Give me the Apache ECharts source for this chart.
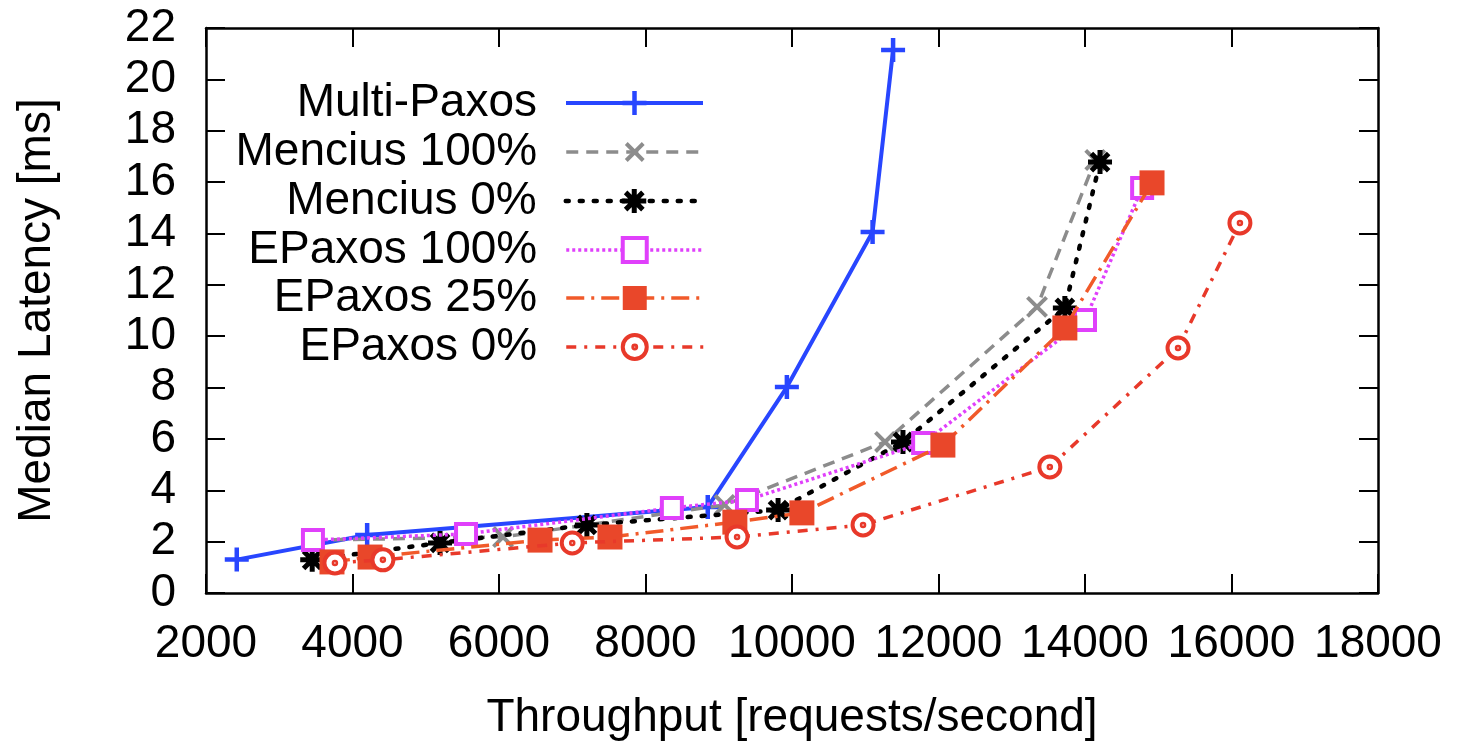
<!DOCTYPE html>
<html>
<head>
<meta charset="utf-8">
<script src="https://cdn.jsdelivr.net/npm/echarts@6/dist/echarts.min.js"></script>
<style>
html,body{margin:0;padding:0;background:#fff;}
#chart{width:1458px;height:747px;}
</style>
</head>
<body>
<div id="chart"></div>
<script>
// ---- data ----
const seriesNames = ['Multi-Paxos', 'Mencius 100%', 'Mencius 0%', 'EPaxos 100%', 'EPaxos 25%', 'EPaxos 0%'];
const multiPaxos = [[2420, 1.3], [4200, 2.26], [8850, 3.35], [9930, 8.02], [11100, 14.06], [11380, 21.14]];
const mencius100 = [[3460, 2.06], [6055, 2.18], [9080, 3.43], [11270, 5.88], [13345, 11.14], [14140, 16.86]];
const mencius0 = [[3450, 1.29], [5195, 1.95], [7200, 2.65], [9810, 3.23], [11515, 5.88], [13725, 11.1], [14205, 16.78]];
const epaxos100 = [[3460, 2.06], [5550, 2.3], [8360, 3.31], [9385, 3.62], [11790, 5.84], [14000, 10.63], [14780, 15.77]];
const epaxos25 = [[3720, 1.21], [4240, 1.4], [6560, 2.06], [7515, 2.18], [9220, 2.76], [10135, 3.12], [12060, 5.76], [13725, 10.32], [14915, 15.97]];
const epaxos0 = [[3760, 1.17], [4415, 1.29], [7000, 1.95], [9250, 2.18], [10970, 2.65], [13520, 4.91], [15270, 9.54], [16115, 14.41]];
const xTicks = [2000, 4000, 6000, 8000, 10000, 12000, 14000, 16000, 18000];
const yTicks = [0, 2, 4, 6, 8, 10, 12, 14, 16, 18, 20, 22];

const FONT = "'Liberation Sans', Arial, Helvetica, sans-serif";
const PLUS = 'path://M-1,0L1,0M0,-1L0,1';
const STAR = 'path://M-1,0L1,0M0,-1L0,1M-0.72,-0.72L0.72,0.72M-0.72,0.72L0.72,-0.72';
const SQUARE = 'path://M-1,-1L1,-1L1,1L-1,1Z';
const DOTCIRCLE = 'path://M1,0A1,1,0,1,1,-1,0A1,1,0,1,1,1,0ZM0.12,0A0.12,0.12,0,1,1,-0.12,0A0.12,0.12,0,1,1,0.12,0Z';

const chart = echarts.init(document.getElementById('chart'), null, {renderer: 'canvas'});

function axisCommon(extra) {
  return Object.assign({
    axisLine: {show: true, onZero: false, lineStyle: {color: '#000', width: 2.5}},
    axisTick: {show: true, inside: true, length: 19, lineStyle: {color: '#000', width: 2}},
    splitLine: {show: false}
  }, extra);
}

const xMin = xTicks[0], xMax = xTicks[xTicks.length - 1];
const yMin = yTicks[0], yMax = yTicks[yTicks.length - 1];

const styles = [
  {color: '#2846ff', data: multiPaxos, symbol: PLUS, size: 24, line: {width: 4, type: 'solid'}, item: {color: '#2846ff', borderColor: '#2846ff', borderWidth: 4.5}},
  {color: '#8c8c8c', data: mencius100, symbol: PLUS, rotate: 45, size: 27, line: {width: 3.5, type: [12, 8]}, item: {color: '#8c8c8c', borderColor: '#8c8c8c', borderWidth: 4}},
  {color: '#000000', data: mencius0, symbol: STAR, size: 24, line: {width: 4.5, type: [3, 11], cap: 'round'}, item: {color: '#000', borderColor: '#000', borderWidth: 5}},
  {color: '#e040fb', data: epaxos100, symbol: SQUARE, size: 20, line: {width: 3.5, type: [3, 3]}, item: {color: '#ffffff', borderColor: '#e040fb', borderWidth: 4}},
  {color: '#ec4a2b', data: epaxos25, symbol: 'rect', size: 25, line: {width: 3.5, type: [18, 7, 3, 7], lineColor: '#f15a2a'}, item: {color: '#e9472a', borderWidth: 0}},
  {color: '#e8392a', data: epaxos0, symbol: DOTCIRCLE, size: 21, line: {width: 3.5, type: [10, 8, 3, 8]}, item: {color: '#ffffff', borderColor: '#e8392a', borderWidth: 4}}
];

const series = styles.map((s, i) => ({
  name: seriesNames[i],
  type: 'line',
  xAxisIndex: 0,
  yAxisIndex: 0,
  data: s.data,
  symbol: s.symbol,
  symbolRotate: s.rotate || 0,
  symbolSize: s.size,
  showAllSymbol: true,
  color: s.color,
  lineStyle: {color: s.line.lineColor || s.color, width: s.line.width, type: s.line.type, cap: s.line.cap || 'butt'},
  itemStyle: s.item,
  emphasis: {disabled: true},
  animation: false,
  z: 2 + i
}));

const rowCenters = [103, 152, 201, 250, 298, 347];
const legends = seriesNames.map((n, i) => ({
  data: [n],
  orient: 'horizontal',
  align: 'right',
  right: 753,
  top: rowCenters[i] - 24,
  padding: 0,
  itemWidth: 137,
  itemHeight: 30,
  selectedMode: false,
  itemStyle: Object.assign({}, styles[i].item),
  lineStyle: {color: styles[i].line.lineColor || styles[i].color, width: styles[i].line.width, type: styles[i].line.type, cap: styles[i].line.cap || 'butt'},
  textStyle: {fontSize: 46, fontFamily: FONT, color: '#000', lineHeight: 48, padding: [0, 24, 0, 0]}
}));

chart.setOption({
  backgroundColor: '#fff',
  animation: false,
  textStyle: {fontFamily: FONT},
  grid: {left: 206, right: 80, top: 28, bottom: 154, containLabel: false},
  legend: legends,
  xAxis: [
    axisCommon({
      type: 'value', position: 'bottom', min: xMin, max: xMax, interval: 2000,
      name: 'Throughput [requests/second]', nameLocation: 'middle', nameGap: 102,
      nameTextStyle: {fontSize: 46, fontFamily: FONT, color: '#000'},
      axisLabel: {show: true, fontSize: 46, fontFamily: FONT, color: '#000', margin: 28,
        formatter: v => xTicks.indexOf(v) >= 0 ? String(v) : ''}
    }),
    axisCommon({
      type: 'value', position: 'top', min: xMin, max: xMax, interval: 2000,
      axisLabel: {show: false}
    })
  ],
  yAxis: [
    axisCommon({
      type: 'value', position: 'left', min: yMin, max: yMax, interval: 2,
      name: 'Median Latency [ms]', nameLocation: 'middle', nameGap: 146,
      nameTextStyle: {fontSize: 46, fontFamily: FONT, color: '#000'},
      axisLabel: {show: true, fontSize: 46, fontFamily: FONT, color: '#000', margin: 30,
        formatter: v => yTicks.indexOf(v) >= 0 ? String(v) : ''}
    }),
    axisCommon({
      type: 'value', position: 'right', min: yMin, max: yMax, interval: 2,
      axisLabel: {show: false}
    })
  ],
  series: series
});
</script>
</body>
</html>
